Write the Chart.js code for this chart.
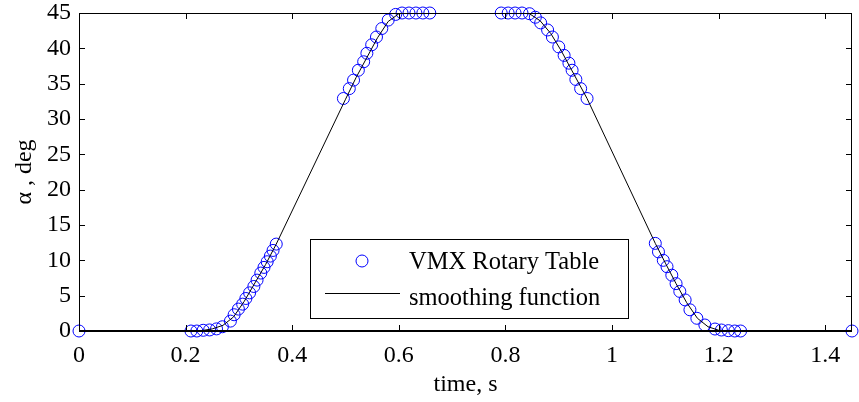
<!DOCTYPE html>
<html>
<head>
<meta charset="utf-8">
<script src="https://cdn.jsdelivr.net/npm/chart.js@4.4.1/dist/chart.umd.min.js"></script>
<style>
    html, body { margin: 0; padding: 0; background: #ffffff; }
    #wrap { width: 859px; height: 402px; }
</style>
</head>
<body>
<div id="wrap"><canvas id="angleChart" width="859" height="402"></canvas></div>
<script>
// Ticks
const xTicks = [0, 0.2, 0.4, 0.6, 0.8, 1, 1.2, 1.4];
const yTicks = [0, 5, 10, 15, 20, 25, 30, 35, 40, 45];

// Measured points (VMX Rotary Table)
const sampleTime = [
    0,
    0.210, 0.221, 0.233, 0.245, 0.258, 0.269, 0.284, 0.291, 0.299, 0.307,
    0.313, 0.320, 0.328, 0.334, 0.341, 0.347, 0.353, 0.359, 0.364, 0.370,
    0.496, 0.507, 0.515, 0.524, 0.534, 0.540, 0.549, 0.558, 0.568, 0.580,
    0.594, 0.606, 0.619, 0.632, 0.645, 0.658,
    0.792, 0.805, 0.818, 0.831, 0.845, 0.856, 0.866, 0.879, 0.888, 0.900,
    0.910, 0.919, 0.925, 0.932, 0.941, 0.953,
    1.081, 1.087, 1.096, 1.103, 1.112, 1.120, 1.127, 1.137, 1.146, 1.159,
    1.174, 1.193, 1.205, 1.218, 1.230, 1.241,
    1.45
];
const sampleAngle = [
    0,
    0.0, 0.0, 0.1, 0.15, 0.3, 0.6, 1.4, 2.3, 3.1, 3.8,
    4.6, 5.4, 6.3, 7.2, 8.2, 9.0, 9.8, 10.6, 11.4, 12.3,
    32.9, 34.3, 35.5, 36.9, 38.1, 39.3, 40.5, 41.6, 42.8, 44.0,
    44.8, 45.0, 45.0, 45.0, 45.0, 45.0,
    45.0, 45.0, 45.0, 45.0, 44.9, 44.4, 43.6, 42.6, 41.6, 40.2,
    39.0, 37.9, 36.9, 35.6, 34.3, 32.9,
    12.4, 11.2, 10.0, 9.1, 7.9, 6.7, 5.6, 4.4, 3.0, 1.8,
    0.85, 0.28, 0.14, 0.05, 0.0, 0.0,
    0
];

// Smoothing function
const smoothTime = [
    0, 0.21, 0.23, 0.25, 0.27, 0.29, 0.31, 0.33, 0.35, 0.37,
    0.50, 0.52, 0.54, 0.56, 0.58, 0.60, 0.62, 0.82,
    0.845, 0.865, 0.885, 0.905, 0.925, 0.953,
    1.081, 1.10, 1.12, 1.14, 1.16, 1.18, 1.20, 1.22, 1.45
];
const smoothAngle = [
    0, 0, 0.05, 0.3, 0.8, 2.0, 4.2, 6.8, 9.4, 12.3,
    32.8, 35.9, 38.7, 41.5, 43.8, 44.9, 45, 45,
    44.9, 43.9, 42.1, 39.6, 36.8, 32.9,
    12.4, 9.6, 6.7, 4.0, 1.8, 0.6, 0.1, 0, 0
];

const FONT = "'Liberation Serif', 'Times New Roman', serif";

// Axes box with inward ticks (MATLAB look) + legend drawn inside the plot
const boxPlugin = {
    id: 'boxPlugin',
    afterDraw(chart) {
        const ctx = chart.ctx;
        const a = chart.chartArea;
        const xs = chart.scales.x;
        const ys = chart.scales.y;
        ctx.save();
        ctx.strokeStyle = '#000000';
        ctx.lineWidth = 1;
        ctx.strokeRect(a.left + 0.5, a.top + 0.5, a.right - a.left - 1, a.bottom - a.top);
        ctx.beginPath();
        xTicks.forEach(v => {
            const px = Math.round(xs.getPixelForValue(v)) + 0.5;
            ctx.moveTo(px, a.bottom); ctx.lineTo(px, a.bottom - 6);
            ctx.moveTo(px, a.top); ctx.lineTo(px, a.top + 6);
        });
        yTicks.forEach(v => {
            const py = Math.round(ys.getPixelForValue(v)) + 0.5;
            ctx.moveTo(a.left, py); ctx.lineTo(a.left + 6, py);
            ctx.moveTo(a.right, py); ctx.lineTo(a.right - 6, py);
        });
        ctx.stroke();
        // bottom axis line a bit heavier, as in the reference
        ctx.lineWidth = 2;
        ctx.beginPath();
        ctx.moveTo(a.left, a.bottom);
        ctx.lineTo(a.right, a.bottom);
        ctx.stroke();

        // legend
        const ds = chart.data.datasets;
        const bx = 310, by = 239, bw = 318, bh = 79;
        ctx.fillStyle = '#ffffff';
        ctx.fillRect(bx, by, bw, bh);
        ctx.lineWidth = 1;
        ctx.strokeStyle = '#000000';
        ctx.strokeRect(bx + 0.5, by + 0.5, bw, bh);
        ctx.strokeStyle = ds[0].borderColor;
        ctx.beginPath();
        ctx.arc(362, 261, 6, 0, Math.PI * 2);
        ctx.stroke();
        ctx.strokeStyle = ds[1].borderColor;
        ctx.beginPath();
        ctx.moveTo(325, 293.5);
        ctx.lineTo(400, 293.5);
        ctx.stroke();
        ctx.fillStyle = '#000000';
        ctx.font = '24.5px ' + FONT;
        ctx.textBaseline = 'middle';
        ctx.textAlign = 'left';
        ctx.fillText(ds[0].label, 409, 263);
        ctx.fillText(ds[1].label, 409, 299);
        ctx.restore();
    }
};

const chartCtx = document.getElementById('angleChart').getContext('2d');
const angleChart = new Chart(chartCtx, {
    type: 'scatter',
    data: {
        datasets: [
            {
                label: 'VMX Rotary Table',
                data: sampleTime.map((t, i) => ({ x: t, y: sampleAngle[i] })),
                showLine: false,
                pointStyle: 'circle',
                pointRadius: 6,
                pointBorderWidth: 1,
                borderColor: '#0000ff',
                backgroundColor: 'rgba(0,0,0,0)',
                clip: false,
                order: 1
            },
            {
                label: 'smoothing function',
                data: smoothTime.map((t, i) => ({ x: t, y: smoothAngle[i] })),
                showLine: true,
                borderColor: '#000000',
                borderWidth: 1,
                pointRadius: 0,
                tension: 0,
                order: 0
            }
        ]
    },
    options: {
        responsive: false,
        animation: false,
        layout: { padding: { top: 13, right: 1, left: 0, bottom: 0 } },
        scales: {
            x: {
                type: 'linear',
                min: 0,
                max: 1.45,
                afterBuildTicks: s => { s.ticks = xTicks.map(v => ({ value: v })); },
                afterFit: s => { s.height = 71; s.paddingLeft = 0; s.paddingRight = 0; },
                grid: { display: false, drawTicks: false },
                border: { display: false },
                ticks: {
                    padding: 10,
                    color: '#000000',
                    font: { family: FONT, size: 24 },
                    maxRotation: 0,
                    callback: v => String(v)
                },
                title: {
                    display: true,
                    text: 'time, s',
                    color: '#000000',
                    font: { family: FONT, size: 24 },
                    padding: { top: 0, bottom: 3 }
                }
            },
            y: {
                type: 'linear',
                min: 0,
                max: 45,
                afterBuildTicks: s => { s.ticks = yTicks.map(v => ({ value: v })); },
                afterFit: s => { s.width = 79; s.paddingTop = 0; s.paddingBottom = 0; },
                grid: { display: false, drawTicks: false },
                border: { display: false },
                ticks: {
                    padding: 8,
                    color: '#000000',
                    font: { family: FONT, size: 24 },
                    callback: v => String(v)
                },
                title: {
                    display: true,
                    text: 'α , deg',
                    color: '#000000',
                    font: { family: FONT, size: 24 },
                    padding: { top: 10, bottom: 0 }
                }
            }
        },
        plugins: {
            legend: { display: false },
            tooltip: { enabled: false }
        }
    },
    plugins: [boxPlugin]
});
</script>
</body>
</html>
